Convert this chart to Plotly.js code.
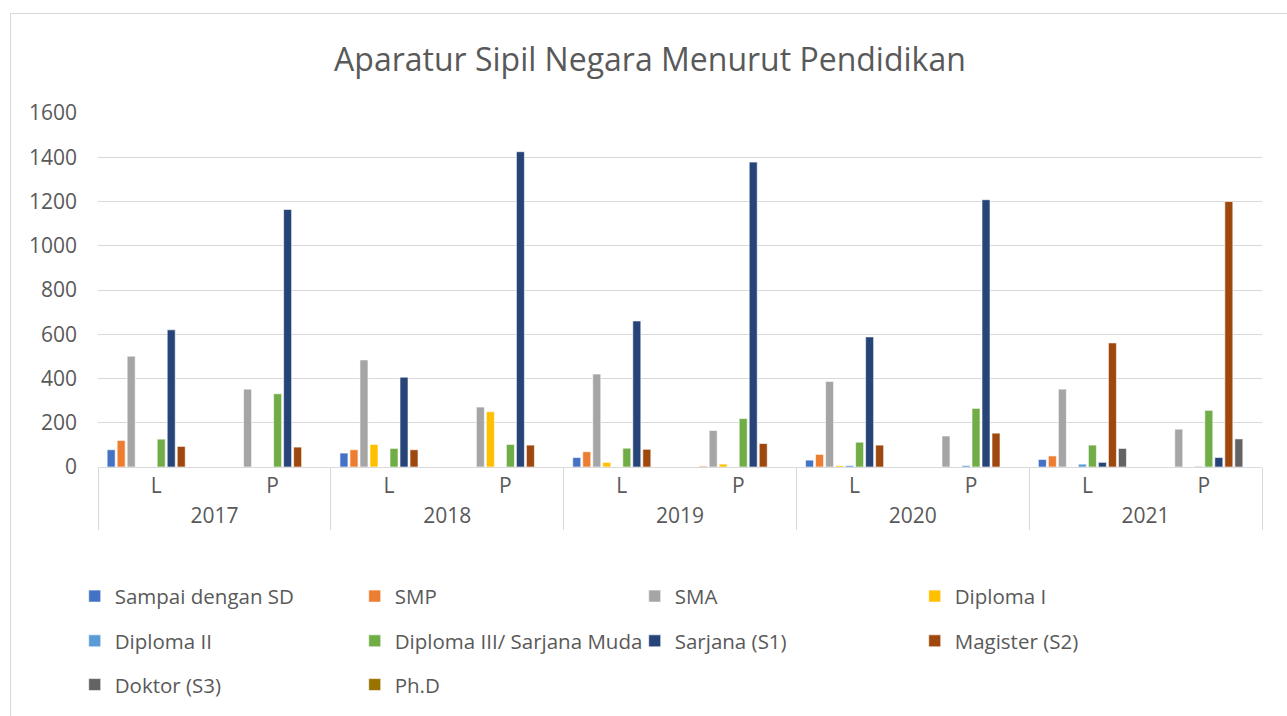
<!DOCTYPE html>
<html>
<head>
<meta charset="utf-8">
<script src="https://cdn.plot.ly/plotly-3.0.1.min.js"></script>
<style>
  html, body { margin: 0; padding: 0; background: #fff; }
  #wrap { position: relative; width: 1287px; height: 716px; overflow: hidden; }
  #frame { position: absolute; left: 10px; top: 13px; width: 1300px; height: 800px; border: 1px solid #d9d9d9; box-sizing: border-box; pointer-events: none; }
  #chart { position: absolute; left: 0; top: 0; width: 1287px; height: 716px; }
</style>
</head>
<body>
<div id="wrap">
  <div id="chart"></div>
  <div id="frame"></div>
</div>
<script>
const years = ["2017", "2017", "2018", "2018", "2019", "2019", "2020", "2020", "2021", "2021"];
const genders = ["L", "P", "L", "P", "L", "P", "L", "P", "L", "P"];

const seriesNames = ["Sampai dengan SD", "SMP", "SMA", "Diploma I", "Diploma II",
  "Diploma III/ Sarjana Muda", "Sarjana (S1)", "Magister (S2)", "Doktor (S3)", "Ph.D"];

const sampaiSD   = [78, 0, 63, 0, 43, 0, 31, 0, 34, 0];
const smp        = [120, 0, 78, 0, 69, 4, 57, 0, 50, 0];
const sma        = [501, 352, 484, 271, 420, 165, 387, 140, 352, 171];
const diploma1   = [0, 0, 102, 250, 21, 13, 6, 0, 0, 0];
const diploma2   = [0, 0, 0, 0, 0, 0, 7, 7, 13, 3];
const diploma3   = [126, 331, 84, 102, 85, 219, 112, 265, 99, 256];
const sarjanaS1  = [620, 1164, 406, 1425, 660, 1378, 588, 1208, 21, 43];
const magisterS2 = [93, 90, 78, 99, 80, 106, 99, 153, 561, 1200];
const doktorS3   = [0, 0, 0, 0, 0, 0, 0, 0, 84, 127];
const phd        = [0, 0, 0, 0, 0, 0, 0, 0, 0, 0];

const yTicks = [0, 200, 400, 600, 800, 1000, 1200, 1400, 1600];

const seriesValues = [sampaiSD, smp, sma, diploma1, diploma2, diploma3, sarjanaS1, magisterS2, doktorS3, phd];
const colors = ["#4472C4", "#ED7D31", "#A5A5A5", "#FFC000", "#5B9BD5",
  "#70AD47", "#264478", "#9E480E", "#636363", "#997300"];
const legendIds = ["legend", "legend", "legend", "legend",
  "legend2", "legend2", "legend2", "legend2", "legend3", "legend3"];

const FONT = "Open Sans, Noto Sans, sans-serif";
const TXT = "#595959";

const traces = seriesNames.map((name, i) => ({
  type: "bar",
  name: name,
  x: [years, genders],
  y: seriesValues[i],
  marker: { color: colors[i], line: { color: "#ffffff", width: 0.6 } },
  legend: legendIds[i],
  hoverinfo: "name+y"
}));

const legendBase = {
  orientation: "h",
  xanchor: "left",
  yanchor: "middle",
  x: -0.02,
  entrywidth: 235,
  entrywidthmode: "pixels",
  font: { family: FONT, size: 20.5, color: TXT },
  bgcolor: "rgba(0,0,0,0)",
  itemclick: false,
  itemdoubleclick: false
};

const layout = {
  width: 1287,
  height: 716,
  paper_bgcolor: "rgba(0,0,0,0)",
  plot_bgcolor: "#ffffff",
  margin: { l: 98, r: 25, t: 113, b: 247 },
  title: {
    text: "Aparatur Sipil Negara Menurut Pendidikan",
    font: { family: FONT, size: 32, color: TXT },
    xref: "container",
    x: 0.505,
    xanchor: "center",
    yref: "container",
    y: 1 - 60 / 716,
    yanchor: "middle"
  },
  barmode: "group",
  bargap: 0.14,
  bargroupgap: 0.2,
  showlegend: true,
  legend: Object.assign({}, legendBase, { y: (469 - 599) / 356 }),
  legend2: Object.assign({}, legendBase, { y: (469 - 644) / 356 }),
  legend3: Object.assign({}, legendBase, { y: (469 - 688) / 356 }),
  xaxis: {
    type: "multicategory",
    showline: true,
    linecolor: "#d9d9d9",
    linewidth: 1,
    ticks: "",
    showdividers: true,
    dividercolor: "#d9d9d9",
    dividerwidth: 1,
    tickfont: { family: FONT, size: 21, color: TXT },
    showgrid: false
  },
  yaxis: {
    range: [0, 1600],
    tickvals: yTicks,
    ticktext: yTicks.map(String),
    showgrid: true,
    gridcolor: "#d9d9d9",
    gridwidth: 1,
    zeroline: false,
    showline: false,
    ticks: "",
    ticklabelstandoff: 20,
    tickfont: { family: FONT, size: 21, color: TXT },
    fixedrange: true
  }
};

Plotly.newPlot("chart", traces, layout, { displayModeBar: false, staticPlot: false });
</script>
</body>
</html>
